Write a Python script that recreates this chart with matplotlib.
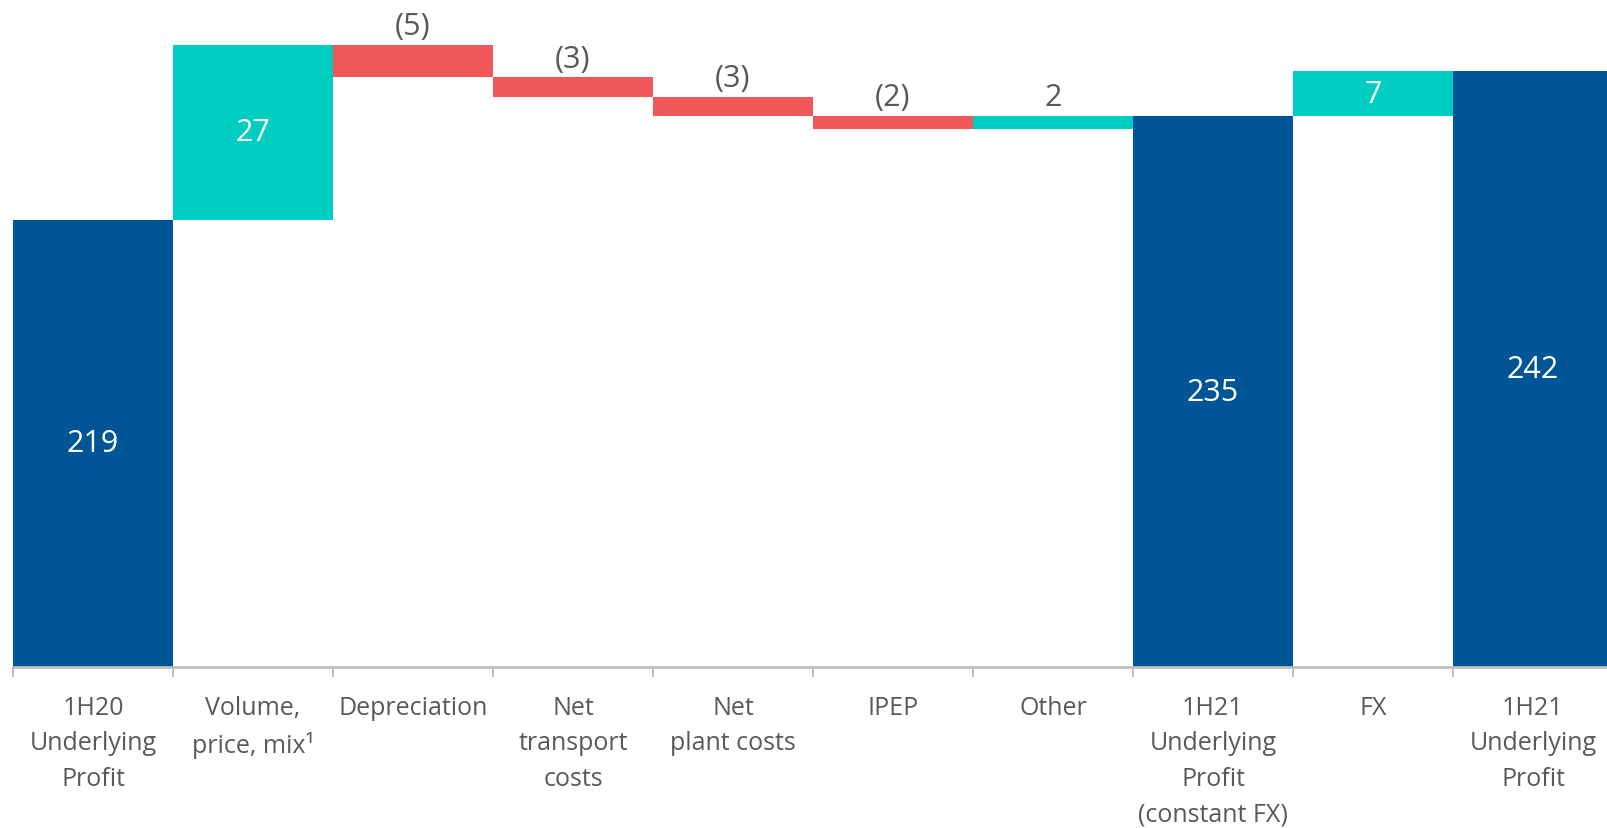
import matplotlib
matplotlib.use("Agg")
import matplotlib.pyplot as plt
import numpy as np

categories = ["1H20\nUnderlying\nProfit", "Volume,\nprice, mix\u00b9", "Depreciation",
              "Net\ntransport\ncosts", "Net\nplant costs", "IPEP", "Other",
              "1H21\nUnderlying\nProfit\n(constant FX)", "FX", "1H21\nUnderlying\nProfit"]
values = [219, 27, -5, -3, -3, -2, 2, 235, 7, 242]
is_total = [True, False, False, False, False, False, False, True, False, True]

BLUE = "#005596"
TEAL = "#00CDC1"
RED = "#F05757"
GRAY = "#595959"
YMIN, YMAX = 150, 253.1

plt.rcParams['font.family'] = ['Open Sans', 'DejaVu Sans']

fig = plt.figure(figsize=(16.07, 8.29), dpi=100)
ax = fig.add_axes([13/1607, 161/829, 1600/1607, 668/829])

running = 0
bottoms, heights, colors = [], [], []
for v, tot in zip(values, is_total):
    if tot:
        bottoms.append(YMIN)
        heights.append(v - YMIN)
        colors.append(BLUE)
        running = v
    else:
        start = running
        running += v
        bottoms.append(min(start, running))
        heights.append(abs(v))
        colors.append(TEAL if v > 0 else RED)

x = np.arange(len(values))
ax.bar(x, heights, bottom=bottoms, width=1.0, color=colors, linewidth=0)

for xi, v, tot, b, h in zip(x, values, is_total, bottoms, heights):
    if tot:
        ax.text(xi, (v + YMIN) / 2, f"{v}", ha="center", va="center", color="white", fontsize=22)
    elif v >= 5:
        ax.text(xi, b + h / 2, f"{v}", ha="center", va="center", color="white", fontsize=22)
    else:
        lab = f"({abs(v)})" if v < 0 else f"{v}"
        ax.text(xi, b + h + 0.6, lab, ha="center", va="bottom", color=GRAY, fontsize=22)

ax.set_xlim(-0.5, len(values) - 0.5)
ax.set_ylim(YMIN, YMAX)
for s in ["top", "right", "left"]:
    ax.spines[s].set_visible(False)
ax.spines["bottom"].set_color("#BFBFBF")
ax.spines["bottom"].set_linewidth(2)
ax.set_yticks([])
ax.set_xticks(x)
ax.set_xticklabels(categories, fontsize=18, color=GRAY, linespacing=1.55)
ax.tick_params(axis="x", which="major", length=0, pad=20)
ax.set_xticks(np.arange(-0.5, len(values), 1.0), minor=True)
ax.tick_params(axis="x", which="minor", length=7, width=1.5, color="#BFBFBF")

fig.savefig("out.png", dpi=100)
